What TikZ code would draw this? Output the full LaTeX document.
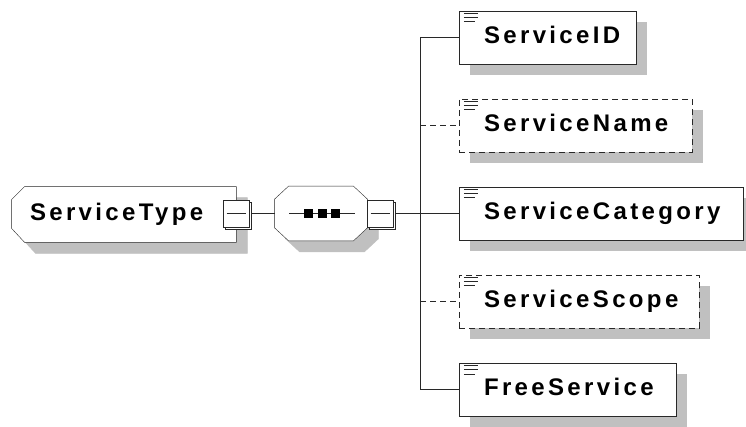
\documentclass[tikz,border=0pt]{standalone}
\usepackage{fontspec}
\newfontfamily\xsdfont{Liberation Sans}[LetterSpace=14]
\usetikzlibrary{shadows}
\definecolor{xsdshade}{RGB}{192,192,192}
\definecolor{xsdline}{RGB}{40,40,40}
\pgfdeclarelayer{background}
\pgfsetlayers{background,main}

\begin{document}
\begin{tikzpicture}[
  x=1pt, y=-1pt,
  line width=0.8pt,
  shade/.style={general shadow={fill=xsdshade, shadow xshift=11pt, shadow yshift=-11pt}},
  label font/.style={font=\xsdfont\bfseries\fontsize{24}{27}\selectfont, text height=12pt, text depth=0pt},
  elem/.style={rectangle, draw=xsdline, fill=white, label font, shade, minimum height=53pt, minimum width=#1, text width=#1, inner xsep=0pt, align=left, execute at begin node=\hspace*{25pt}},
  opt/.style={dash pattern=on 6pt off 4pt},
  ctype/.style={rectangle, label font, minimum width=224pt, minimum height=55pt, inner xsep=0pt, text width=224pt, align=left, execute at begin node=\hspace*{18pt}},
  seqbox/.style={rectangle, minimum width=92pt, minimum height=54pt},
  expander/.style={rectangle, draw=xsdline, fill=white, minimum width=26pt, minimum height=27pt, inner sep=0pt, general shadow={draw=xsdline, fill=white, shadow xshift=2.7pt, shadow yshift=-2.5pt}},
  link/.style={draw=xsdline}
]
\useasboundingbox (0,0) rectangle (746,427);

% complex type and its sequence
\node[ctype] (stype) at (124,214.5) {ServiceType};
\node[expander] (typex) at (236,213.5) {};
\node[seqbox] (seq) at (321,213.5) {};
\node[expander] (seqx) at (380,213.5) {};
\coordinate (fork) at (420,213.5);

% outlines with chamfered corners, shadow first
\begin{pgfonlayer}{background}
\foreach \s/\f/\d in {11pt/xsdshade/xsdshade, 0pt/white/xsdline} {
  \filldraw[fill=\f, draw=\d, transform canvas={xshift=\s, yshift=-\s}]
    (stype.north east) -- ([xshift=13pt]stype.north west) -- ([yshift=-13pt]stype.north west)
    -- ([yshift=14pt]stype.south west) -- ([xshift=13pt]stype.south west) -- (stype.south east) -- cycle;
  \filldraw[fill=\f, draw=\d, transform canvas={xshift=\s, yshift=-\s}]
    ([xshift=14pt]seq.north west) -- ([xshift=-14pt]seq.north east) -- ([yshift=-13pt]seq.north east)
    -- ([yshift=13pt]seq.south east) -- ([xshift=-14pt]seq.south east) -- ([xshift=14pt]seq.south west)
    -- ([yshift=13pt]seq.south west) -- ([yshift=-13pt]seq.north west) -- cycle;
}
\end{pgfonlayer}

% child elements
\node[elem=177pt] (sid) at (547.5,37.5) {ServiceID};
\node[elem=233pt, opt] (sname) at (575.5,125.5) {ServiceName};
\node[elem=284pt] (cat) at (601,213.5) {ServiceCategory};
\node[elem=240pt, opt] (scope) at (579,301.5) {ServiceScope};
\node[elem=217pt] (free) at (567.5,389.5) {FreeService};

% minus signs and sequence marks
\foreach \n in {typex,seqx}
  \draw[link] ([xshift=-9.5pt]\n.center) -- ([xshift=9.5pt]\n.center);
\draw[link] ([xshift=-32pt]seq.center) -- ([xshift=34pt]seq.center);
\foreach \dx in {-12.5,1,14.5}
  \fill[black] ([xshift=\dx pt]seq.center) +(-4.5,-4.5) rectangle +(4.5,4.5);

% document marks
\foreach \n in {sid,sname,cat,scope,free}
  \foreach \dy/\len in {2.5/14,6.5/14,11/11}
    \draw[line width=0.6pt, xsdline] ([xshift=5pt,yshift=-\dy pt]\n.north west) -- ++(\len,0);

% connectors
\draw[link] ([xshift=2.7pt]typex.east) -- (seq.west);
\draw[link] ([xshift=2.7pt]seqx.east) -- (cat.west);
\draw[link] (fork) |- (sid.west);
\draw[link] (fork) |- (free.west);
\draw[link, opt] (fork |- sname.west) -- (sname.west);
\draw[link, opt] (fork |- scope.west) -- (scope.west);
\end{tikzpicture}
\end{document}
